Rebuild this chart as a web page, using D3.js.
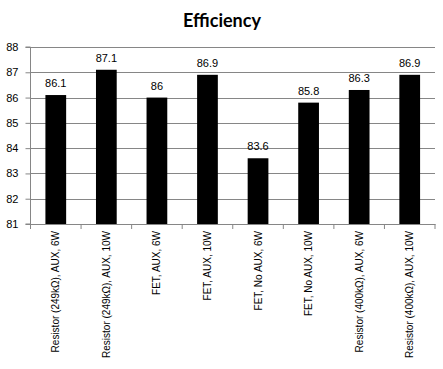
<!DOCTYPE html>
<html>
<head>
<meta charset="utf-8">
<script src="https://cdn.jsdelivr.net/npm/d3@7"></script>
<style>
  body { margin: 0; background: #fff; }
  svg { display: block; }
</style>
</head>
<body>
<div id="chart"></div>
<script>
// chart data
var categories = ['Resistor (249k\u03A9), AUX, 6W', 'Resistor (249k\u03A9), AUX, 10W', 'FET, AUX, 6W', 'FET, AUX, 10W',
    'FET, No AUX, 6W', 'FET, No AUX, 10W', 'Resistor (400k\u03A9), AUX, 6W', 'Resistor (400k\u03A9), AUX, 10W'];
var efficiency = [86.1, 87.1, 86, 86.9, 83.6, 85.8, 86.3, 86.9];
var valueLabels = ['86.1', '87.1', '86', '86.9', '83.6', '85.8', '86.3', '86.9'];
var yTicks = [81, 82, 83, 84, 85, 86, 87, 88];
var title = 'Efficiency';

function draw() {
    var w = 443, h = 369;
    var margin = {top: 47, right: 8, bottom: 145, left: 30.5};
    var plotW = w - margin.left - margin.right,
        plotH = h - margin.top - margin.bottom;

    var svg = d3.select('#chart').append('svg')
        .attr('width', w)
        .attr('height', h);

    svg.append('text')
        .attr('x', 222)
        .attr('y', 27)
        .attr('text-anchor', 'middle')
        .style('font-family', 'Lato, "Open Sans", sans-serif')
        .style('font-weight', 'bold')
        .style('font-size', '18px')
        .text(title);

    var g = svg.append('g')
        .attr('transform', 'translate(' + margin.left + ',' + margin.top + ')');

    var x = d3.scaleBand()
        .domain(categories)
        .range([0, plotW]);

    var y = d3.scaleLinear()
        .domain([81, 88])
        .range([plotH, 0]);

    // gridlines
    g.append('g')
        .selectAll('line')
        .data(yTicks.slice(1))
        .enter().append('line')
            .attr('x1', 0)
            .attr('x2', plotW)
            .attr('y1', function(d) { return Math.round(y(d)) + 0.5; })
            .attr('y2', function(d) { return Math.round(y(d)) + 0.5; })
            .attr('stroke', '#868686');

    // y axis
    var yAxis = g.append('g')
        .call(d3.axisLeft(y).tickValues(yTicks).tickFormat(d3.format('d')).tickSize(5).tickPadding(7));
    yAxis.select('.domain').attr('stroke', '#868686').attr('d', 'M-5,' + plotH + 'H0V0H-5');
    yAxis.selectAll('.tick line').attr('stroke', '#868686');
    yAxis.selectAll('.tick text')
        .style('font-family', '"Liberation Sans", Arial, sans-serif')
        .style('font-size', '11px')
        .attr('fill', '#000');

    // x axis
    var xAxis = g.append('g')
        .attr('transform', 'translate(0,' + plotH + ')')
        .call(d3.axisBottom(x).tickSize(0).tickPadding(0));
    xAxis.select('.domain').attr('stroke', '#868686');
    xAxis.selectAll('.tick text')
        .attr('transform', 'rotate(-90)')
        .attr('x', -7)
        .attr('y', 0)
        .attr('dy', '0.35em')
        .attr('text-anchor', 'end')
        .style('font-family', '"Liberation Sans", Arial, sans-serif')
        .style('font-size', '10px')
        .attr('fill', '#000');

    // x tick marks between categories
    xAxis.append('g')
        .selectAll('line')
        .data(d3.range(categories.length + 1))
        .enter().append('line')
            .attr('x1', function(i) { return x.step() * i; })
            .attr('x2', function(i) { return x.step() * i; })
            .attr('y1', 0)
            .attr('y2', 5)
            .attr('stroke', '#868686');

    var barW = x.bandwidth() * 0.41;

    g.append('g')
        .selectAll('rect')
        .data(efficiency)
        .enter().append('rect')
            .attr('fill', '#000')
            .attr('x', function(d, i) { return x(categories[i]) + x.bandwidth() / 2 - barW / 2; })
            .attr('width', barW)
            .attr('y', function(d) { return y(d); })
            .attr('height', function(d) { return plotH - y(d); });

    g.append('g')
        .selectAll('text')
        .data(efficiency)
        .enter().append('text')
            .attr('x', function(d, i) { return x(categories[i]) + x.bandwidth() / 2; })
            .attr('y', function(d) { return y(d) - 8; })
            .attr('text-anchor', 'middle')
            .style('font-family', '"Liberation Sans", Arial, sans-serif')
            .style('font-size', '11px')
            .text(function(d, i) { return valueLabels[i]; });
}

window.onload = draw;
</script>
</body>
</html>
